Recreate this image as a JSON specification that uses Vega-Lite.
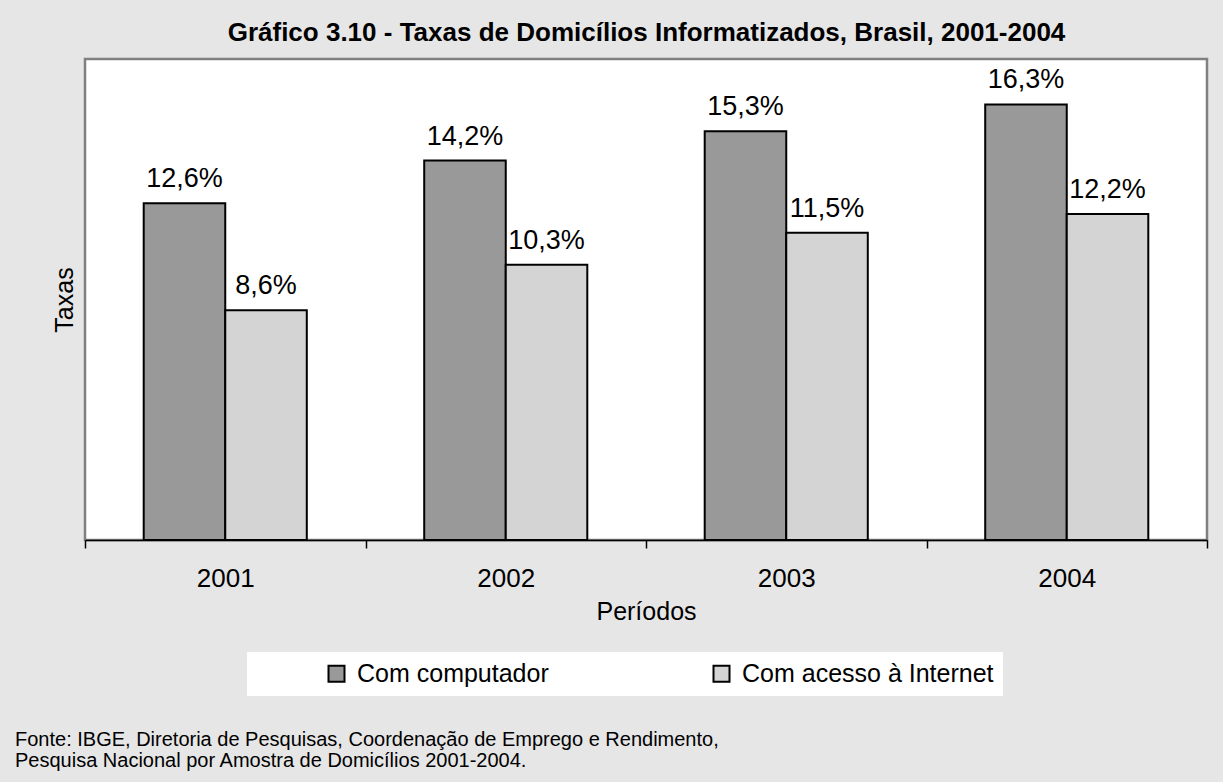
{
  "$schema": "https://vega.github.io/schema/vega-lite/v6.json",
  "width": 1122,
  "height": 481,
  "autosize": {"type": "none"},
  "padding": {"left": 85, "top": 59, "right": 16, "bottom": 242},
  "background": "#e6e6e6",
  "config": {
    "font": "Liberation Sans",
    "locale": {"number": {"decimal": ",", "thousands": ".", "grouping": [3], "currency": ["R$", ""]}},
    "view": {"stroke": "#808080", "strokeWidth": 2.5, "fill": "white"}
  },
  "title": {
    "text": ["Fonte: IBGE, Diretoria de Pesquisas, Coordenação de Emprego e Rendimento,", "Pesquisa Nacional por Amostra de Domicílios 2001-2004."],
    "orient": "bottom", "anchor": "start", "frame": "group", "dx": -70, "offset": 34,
    "fontSize": 20, "fontWeight": "normal", "color": "black", "lineHeight": 21
  },
  "data": {
    "values": [
      {"ano": "2001", "serie": "Com computador", "valor": 0.126},
      {"ano": "2001", "serie": "Com acesso à Internet", "valor": 0.086},
      {"ano": "2002", "serie": "Com computador", "valor": 0.142},
      {"ano": "2002", "serie": "Com acesso à Internet", "valor": 0.103},
      {"ano": "2003", "serie": "Com computador", "valor": 0.153},
      {"ano": "2003", "serie": "Com acesso à Internet", "valor": 0.115},
      {"ano": "2004", "serie": "Com computador", "valor": 0.163},
      {"ano": "2004", "serie": "Com acesso à Internet", "valor": 0.122}
    ]
  },
  "encoding": {
    "xOffset": {"field": "serie", "type": "nominal", "sort": ["Com computador", "Com acesso à Internet"],
                "scale": {"paddingInner": 0, "paddingOuter": 0.72}},
    "y": {
      "field": "valor", "type": "quantitative",
      "scale": {"domain": [0, 0.18], "nice": false},
      "axis": {"labels": false, "ticks": false, "domain": false, "grid": false, "title": "Taxas",
               "titleFontSize": 25, "titleFontWeight": "normal", "titleColor": "black", "titlePadding": 8}
    }
  },
  "layer": [
    {
      "mark": {"type": "bar", "stroke": "black", "strokeWidth": 2},
      "encoding": {
        "x": {
          "field": "ano", "type": "nominal",
          "scale": {"paddingInner": 0, "paddingOuter": 0},
          "axis": {
            "orient": "bottom", "title": "Períodos", "labelAngle": 0, "tickBand": "extent",
            "domainColor": "black", "domainWidth": 1.5, "tickColor": "black", "tickSize": 8, "tickWidth": 1.5,
            "labelFontSize": 26, "labelColor": "black", "labelPadding": 17,
            "titleFontSize": 25, "titleFontWeight": "normal", "titleColor": "black", "titlePadding": 8
          }
        },
        "color": {
          "field": "serie", "type": "nominal",
          "scale": {"domain": ["Com computador", "Com acesso à Internet"], "range": ["#999999", "#d4d4d4"]},
          "legend": {
            "orient": "none", "legendX": 162, "legendY": 593, "direction": "horizontal",
            "fillColor": "white", "padding": 9,
            "title": "\u00a0", "titleOrient": "left", "titleFontSize": 10, "titlePadding": 68,
            "symbolType": "square", "symbolSize": 256, "symbolStrokeColor": "black", "symbolStrokeWidth": 2,
            "symbolOpacity": 1,
            "labelFontSize": 25, "labelColor": "black", "labelOffset": 8, "columnPadding": 160, "labelLimit": 400
          }
        }
      }
    },
    {
      "mark": {"type": "text", "baseline": "bottom", "dy": -10, "fontSize": 27, "color": "black"},
      "encoding": {
        "x": {
          "field": "ano", "type": "nominal",
          "scale": {"paddingInner": 0, "paddingOuter": 0},
          "axis": {
            "orient": "top", "labels": false, "ticks": false, "domain": false, "grid": false,
            "title": "Gráfico 3.10 - Taxas de Domicílios Informatizados, Brasil, 2001-2004",
            "titleFontSize": 26, "titleFontWeight": "bold", "titleColor": "black", "titlePadding": 14
          }
        },
        "text": {"field": "valor", "type": "quantitative", "format": ".1%"}
      }
    }
  ],
  "resolve": {"axis": {"x": "independent"}}
}
